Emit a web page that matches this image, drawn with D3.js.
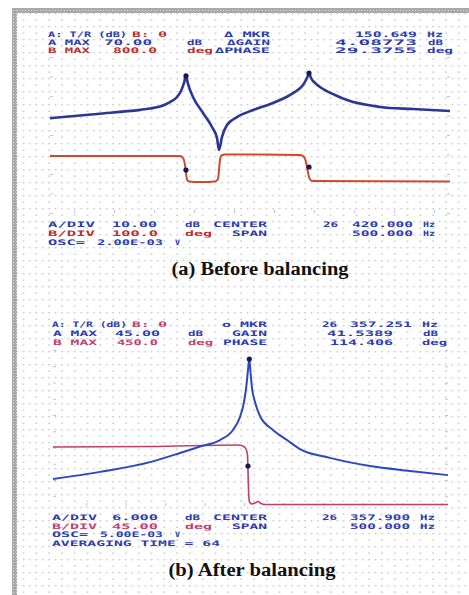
<!DOCTYPE html>
<html><head><meta charset="utf-8">
<script src="https://cdn.jsdelivr.net/npm/d3@7"></script>
<style>html,body{margin:0;padding:0;background:#fff;} svg{display:block}</style>
</head><body>
<script>
// ================= DATA =================
// Panel (a): before balancing  (frequency Hz, magnitude dB, phase deg)
const freqMagA = [26170,26228.75,26282.5,26295,26307.5,26320,26328.75,26333.75,26337.5,26340,26342.5,26348.75,26361.25,26372.5,26378.75,26381.25,26385,26391.25,26403.75,26423.75,26448.75,26473.75,26486.25,26491.25,26493.75,26496.25,26501.25,26507.5,26526.25,26541.25,26582.5,26623.75,26670];
const magA     = [38.6,40.8,42.9,43.6,44.6,46.9,49.5,52.6,56.7,60.3,56.2,49.5,41.3,34.1,28.5,22.3,29.0,35.1,39.2,42.8,46.4,51.5,55.6,59.2,61.8,59.2,56.7,54.6,50.5,47.9,44.4,43.3,42.3];
const freqPhA  = [26170,26332.5,26336.25,26338.75,26340,26341.25,26343.75,26357.5,26376.25,26380,26381.25,26382.5,26384.4,26388.75,26432.5,26482.5,26487.5,26490,26491.9,26493.75,26496.25,26501.25,26670];
const phaseA   = [292,292,282,246,205,172,162,159,162,174,220,272,295,300,300,297,287,262,220,185,167,164,162];
const markerFreqA  = [26340, 26493.75];
const markerMagA   = [60.3, 61.8];
const markerPhaseA = [220, 236];

// Panel (b): after balancing
const freqMagB = [26107.9,26167.4,26230.7,26268.7,26294.0,26319.3,26335.7,26344.6,26349.7,26352.8,26354.7,26356.4,26357.9,26359.8,26363.6,26369.9,26386.4,26404.1,26420.6,26458.5,26509.2,26559.8,26607.9];
const magB     = [5.3,7.5,10.5,13.3,15.3,17.3,20.4,24.4,29.0,34.2,38.8,42.2,38.2,33.3,29.0,24.7,20.4,17.3,14.5,11.8,9.3,7.8,6.5];
const freqPhB  = [26107.9,26230.7,26342.1,26348.4,26352.2,26354.1,26354.7,26355.4,26356.6,26359.8,26363.6,26367.4,26371.2,26376.3,26607.9];
const phaseB   = [226.2,227.3,230.8,228.5,221.5,207.7,173.1,126.9,99.2,94.6,96.9,100.4,95.8,93.5,93.5];
const markerFreqB  = [26356.4];
const markerMagB   = [42.2];
const markerPhFreqB = [26354.7];
const markerPhaseB = [182.3];

// Analyzer settings
const settingsA = {center: 26420, span: 500, aMax: 70, aDiv: 10, bMax: 800, bDiv: 100};
const settingsB = {center: 26357.9, span: 500, aMax: 45, aDiv: 6, bMax: 450, bDiv: 45};

// Annotation texts (one array per text row)
const headA1 = ["A: T/R (dB)", "B: θ", "Δ MKR", "150.649", "Hz"];
const headA2 = ["A MAX", "70.00", "dB", "ΔGAIN", "4.08773", "dB"];
const headA3 = ["B MAX", "800.0", "deg", "ΔPHASE", "29.3755", "deg"];
const footA1 = ["A/DIV", "10.00", "dB", "CENTER", "26", "420.000", "Hz"];
const footA2 = ["B/DIV", "100.0", "deg", "SPAN", "500.000", "Hz"];
const footA3 = ["OSC=", "2.00E-03", "V"];
const headB1 = ["A: T/R (dB)", "B: θ", "o MKR", "26", "357.251", "Hz"];
const headB2 = ["A MAX", "45.00", "dB", "GAIN", "41.5389", "dB"];
const headB3 = ["B MAX", "450.0", "deg", "PHASE", "114.406", "deg"];
const footB1 = ["A/DIV", "6.000", "dB", "CENTER", "26", "357.900", "Hz"];
const footB2 = ["B/DIV", "45.00", "deg", "SPAN", "500.000", "Hz"];
const footB3 = ["OSC=", "5.00E-03", "V"];
const footB4 = ["AVERAGING TIME = 64"];
const captions = ["(a) Before balancing", "(b) After balancing"];

// ================= DRAWING =================
const W = 469, H = 595;
const svg = d3.select("body").append("svg").attr("width", W).attr("height", H);
const defs = svg.append("defs");

// dotted background grid
const pat = defs.append("pattern").attr("id", "dots").attr("patternUnits", "userSpaceOnUse")
  .attr("x", 9.6).attr("y", 6).attr("width", 12.8).attr("height", 13);
[[0.4,0.4],[0.4,6.9],[6.8,6.9]].forEach(([x,y]) =>
  pat.append("rect").attr("x", x).attr("y", y).attr("width", 1.5).attr("height", 1.5).attr("fill", "#c6c6c6"));
svg.append("rect").attr("x", 17).attr("y", 13).attr("width", W - 17).attr("height", H - 13).attr("fill", "url(#dots)");

// scanned border strips
const hat = defs.append("pattern").attr("id", "hatch").attr("patternUnits", "userSpaceOnUse")
  .attr("width", 3).attr("height", 3);
hat.append("rect").attr("width", 3).attr("height", 3).attr("fill", "#a9a9a9");
hat.append("rect").attr("x", 1).attr("y", 1).attr("width", 1).attr("height", 1).attr("fill", "#dcdcdc");
svg.append("rect").attr("x", 12).attr("y", 8).attr("width", 5).attr("height", H - 8).attr("fill", "url(#hatch)");
svg.append("rect").attr("x", 12).attr("y", 8).attr("width", W - 12).attr("height", 5).attr("fill", "url(#hatch)");

const BLUE_T = "#2b3cb0";

function panel(cfg) {
  const s = cfg.settings;
  const x = d3.scaleLinear([s.center - s.span / 2, s.center + s.span / 2], [cfg.x0, cfg.x1]);
  const yA = d3.scaleLinear([s.aMax - 8 * s.aDiv, s.aMax], [cfg.y1, cfg.y0]);
  const yB = d3.scaleLinear([s.bMax - 8 * s.bDiv, s.bMax], [cfg.y1, cfg.y0]);
  const g = svg.append("g");

  // faint graticule ticks
  const tickStyle = sel => { sel.select(".domain").remove(); sel.selectAll("line").attr("stroke", "#7d8fe0").attr("stroke-opacity", 0.55); };
  g.append("g").attr("transform", `translate(${cfg.x0},0)`)
    .call(d3.axisRight(yA).ticks(8).tickSize(3).tickFormat("")).call(tickStyle);
  g.append("g").attr("transform", `translate(${cfg.x1},0)`)
    .call(d3.axisLeft(yA).ticks(8).tickSize(3).tickFormat("")).call(tickStyle);
  g.append("g").attr("transform", `translate(0,${cfg.y1})`)
    .call(d3.axisTop(x).ticks(10).tickSize(3).tickFormat("")).call(tickStyle);

  const line = (xs, ys, sy) => d3.line().curve(d3.curveMonotoneX)
    .x((d, i) => x(xs[i])).y((d, i) => sy(ys[i]))(xs);

  g.append("path").attr("d", line(cfg.fPh, cfg.ph, yB)).attr("fill", "none")
    .attr("stroke", cfg.redLine).attr("stroke-width", cfg.redW).attr("stroke-linejoin", "round");
  g.append("path").attr("d", line(cfg.fMag, cfg.mag, yA)).attr("fill", "none")
    .attr("stroke", cfg.blueLine).attr("stroke-width", cfg.blueW).attr("stroke-linejoin", "round");

  cfg.mkF.forEach((f, i) => g.append("circle").attr("cx", x(f)).attr("cy", yA(cfg.mkMag[i])).attr("r", 2.6).attr("fill", "#141a55"));
  cfg.mkPF.forEach((f, i) => g.append("circle").attr("cx", x(f)).attr("cy", yB(cfg.mkPh[i])).attr("r", 2.6).attr("fill", "#141a55"));

  // annotation rows
  cfg.rows.forEach(r => {
    r.texts.forEach((t, i) => {
      const [a, b, c] = r.pos[i];
      g.append("text").attr("x", a).attr("y", r.y + 2.9)
        .attr("textLength", b - a).attr("lengthAdjust", "spacingAndGlyphs")
        .attr("font-family", "DejaVu Sans Mono").attr("font-weight", "bold").attr("font-size", 7.6)
        .attr("fill", c === "r" ? cfg.redText : BLUE_T).text(t);
    });
  });

  g.append("text").attr("x", cfg.capX - cfg.capW / 2).attr("y", cfg.capY)
    .attr("textLength", cfg.capW).attr("lengthAdjust", "spacingAndGlyphs")
    .attr("font-family", "Liberation Serif").attr("font-weight", "bold").attr("font-size", 18)
    .attr("fill", "#111").text(cfg.caption);
}

panel({
  settings: settingsA, x0: 50, x1: 450, y0: 57, y1: 213,
  fMag: freqMagA, mag: magA, fPh: freqPhA, ph: phaseA,
  mkF: markerFreqA, mkMag: markerMagA, mkPF: markerFreqA, mkPh: markerPhaseA,
  blueLine: "#2a3796", blueW: 2.6, redLine: "#cf4a2c", redW: 2, redText: "#b8302c",
  rows: [
    {y: 34, texts: headA1, pos: [[48,127,"b"],[132,167,"r"],[224,270,"b"],[355,417,"b"],[427,443,"b"]]},
    {y: 42, texts: headA2, pos: [[48,90,"b"],[104,152,"b"],[187,202,"b"],[227,270,"b"],[335,417,"b"],[428,443,"b"]]},
    {y: 50, texts: headA3, pos: [[48,90,"r"],[113,157,"r"],[187,213,"r"],[215,270,"b"],[335,417,"b"],[427,453,"b"]]},
    {y: 224, texts: footA1, pos: [[48,95,"b"],[112,157,"b"],[185,200,"b"],[213,267,"b"],[323,338,"b"],[352,413,"b"],[423,435,"b"]]},
    {y: 233, texts: footA2, pos: [[48,95,"r"],[112,158,"r"],[185,212,"r"],[232,267,"b"],[352,413,"b"],[423,435,"b"]]},
    {y: 242, texts: footA3, pos: [[48,85,"b"],[97,163,"b"],[175,180,"b"]]}
  ],
  caption: captions[0], capX: 260, capY: 275, capW: 177
});

panel({
  settings: settingsB, x0: 53, x1: 448, y0: 350, y1: 506,
  fMag: freqMagB, mag: magB, fPh: freqPhB, ph: phaseB,
  mkF: markerFreqB, mkMag: markerMagB, mkPF: markerPhFreqB, mkPh: markerPhaseB,
  blueLine: "#2b48c0", blueW: 2, redLine: "#c43c6c", redW: 1.6, redText: "#c0406e",
  rows: [
    {y: 324, texts: headB1, pos: [[52,127,"b"],[132,167,"r"],[222,267,"b"],[322,337,"b"],[350,412,"b"],[422,438,"b"]]},
    {y: 333, texts: headB2, pos: [[53,97,"b"],[115,160,"b"],[188,203,"b"],[232,267,"b"],[327,393,"b"],[423,438,"b"]]},
    {y: 342, texts: headB3, pos: [[53,97,"r"],[117,158,"r"],[188,213,"r"],[223,267,"b"],[330,393,"b"],[422,447,"b"]]},
    {y: 517, texts: footB1, pos: [[52,97,"b"],[112,158,"b"],[185,200,"b"],[213,267,"b"],[322,337,"b"],[350,410,"b"],[420,435,"b"]]},
    {y: 526, texts: footB2, pos: [[52,97,"r"],[112,158,"r"],[185,212,"r"],[232,267,"b"],[350,410,"b"],[420,435,"b"]]},
    {y: 534.5, texts: footB3, pos: [[52,88,"b"],[100,163,"b"],[175,180,"b"]]},
    {y: 543.5, texts: footB4, pos: [[52,220,"b"]]}
  ],
  caption: captions[1], capX: 252, capY: 576, capW: 167
});
</script>
</body></html>
